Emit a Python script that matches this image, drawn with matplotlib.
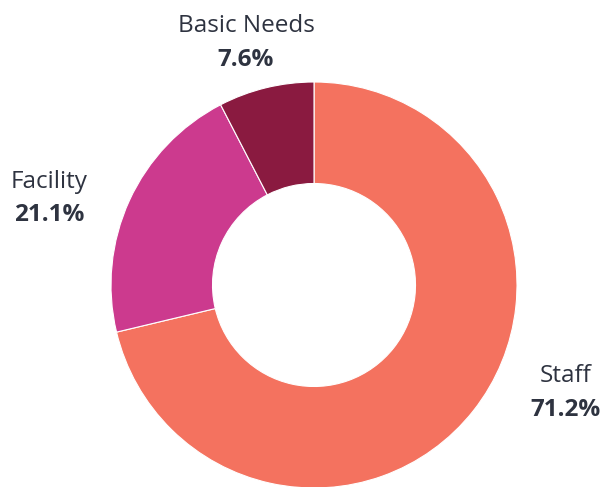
import matplotlib.pyplot as plt
import numpy as np

categories = ['Staff', 'Facility', 'Basic Needs']
shares = [71.2, 21.1, 7.6]
colors = ['#F4725F', '#CC3A8E', '#8A1A40']

# label baseline anchors (data units, pie radius = 1)
label_pos = [(1.241, -0.478), (-1.305, 0.478), (-0.335, 1.246)]
line_gap = 0.165

plt.rcParams['font.family'] = ['Open Sans', 'DejaVu Sans']
text_color = '#2E3340'

fig = plt.figure(figsize=(6.06, 4.87), dpi=100)
R = 203
cx, cy = 314, 487 - 285
ax = fig.add_axes([(cx - R) / 606, (cy - R) / 487, 2 * R / 606, 2 * R / 487])

wedges, _ = ax.pie(shares, colors=colors, startangle=90, counterclock=False,
                   radius=1, wedgeprops=dict(width=0.5, edgecolor='white', linewidth=0.8))
for w in wedges:
    w.set_clip_on(False)

for name, val, (x, y) in zip(categories, shares, label_pos):
    ax.text(x, y, name, ha='center', va='baseline', fontsize=17.5,
            color=text_color, clip_on=False)
    ax.text(x, y - line_gap, f'{val:.1f}%', ha='center', va='baseline', fontsize=17.5,
            fontweight='bold', color=text_color, clip_on=False)

ax.set_xlim(-1, 1)
ax.set_ylim(-1, 1)
ax.set_aspect('auto')
ax.axis('off')

fig.savefig('out.png', dpi=100)
